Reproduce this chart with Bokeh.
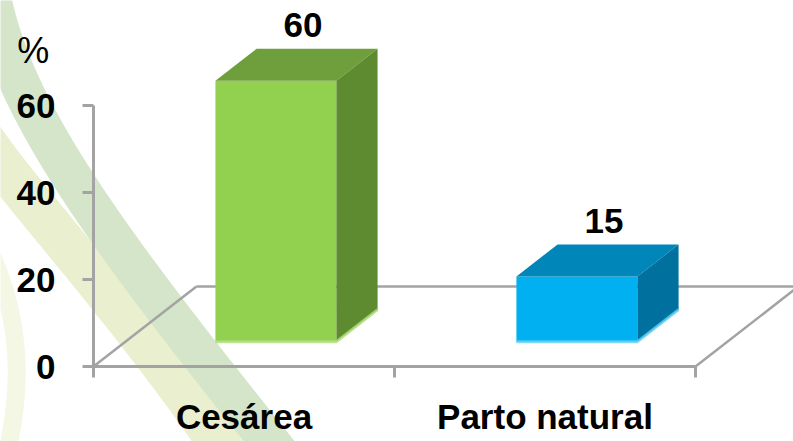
import numpy as np
from bokeh.plotting import figure
from bokeh.models import Range1d, LinearAxis, FixedTicker, ColumnDataSource
from bokeh.core.properties import value
from bokeh.embed import file_html
from bokeh.resources import INLINE

# ---- data -------------------------------------------------------------
categories = ["Cesárea", "Parto natural"]
percentages = [60, 15]
y_ticks = [0, 20, 40, 60]
y_unit_label = "%"

# face colours per bar: front, top, side, bottom highlight
front_colors = ["#92d050", "#00b0f0"]
top_colors = ["#6f9e3c", "#0086b8"]
side_colors = ["#5e8a30", "#00719e"]
edge_colors = ["#aee07a", "#5fd0f6"]

# ---- layout -----------------------------------------------------------
W, H = 793, 441
X0_PX, X_UNIT_PX = 93, 301      # canvas x of category edge 0, width of one category
Y0_PX, Y_UNIT_PX = 366, 4.35    # canvas y of value 0, pixels per percent

DX, DY = 0.342, 18.4            # depth vector of the floor, in data units
FRONT, BACK = 0.31, 0.71        # depth span of each bar (fraction of floor depth)
BAR_W = 0.402
LABEL_DX, LABEL_DY = 0.196, 18.5

FONT_NAME = "Liberation Sans"
FONT = value(FONT_NAME)
GREY = "#a3a3a3"

n = len(categories)
centers = np.arange(n) + 0.5

p = figure(
    width=W, height=H,
    x_range=Range1d(-X0_PX / X_UNIT_PX, (W - X0_PX) / X_UNIT_PX),
    y_range=Range1d(-(H - Y0_PX) / Y_UNIT_PX, Y0_PX / Y_UNIT_PX),
    x_axis_type=None, y_axis_type=None,
    output_backend="svg", toolbar_location=None, min_border=0,
)
p.outline_line_color = None
p.background_fill_color = "white"
p.border_fill_color = "white"

# decorative swooshes in canvas pixel space
p.extra_x_ranges = {"px": Range1d(0, W)}
p.extra_y_ranges = {"px": Range1d(H, 0)}


def bezier(p0, p1, p2, p3, num=90):
    t = np.linspace(0, 1, num)[:, None]
    pts = ((1 - t) ** 3) * np.array(p0) + 3 * ((1 - t) ** 2) * t * np.array(p1) \
        + 3 * (1 - t) * t ** 2 * np.array(p2) + t ** 3 * np.array(p3)
    return pts[:, 0], pts[:, 1]


for (c0, c1, c2, c3), lw, col in [
    (((-30, 215), (22, 300), (26, 380), (2, 470)), 18, "#f4f7e4"),
    (((-40, 100), (-5, 175), (120, 290), (250, 490)), 42, "#e9efcf"),
    (((-12, -20), (5, 110), (120, 255), (300, 480)), 40, "#d4e5c9"),
]:
    bx, by = bezier(c0, c1, c2, c3)
    p.line(bx, by, x_range_name="px", y_range_name="px",
           line_width=lw, line_color=col, line_cap="butt")

# ---- 3D floor ------------------------------------------------------------
p.multi_line(
    xs=[[0, DX], [DX, n + DX], [n, n + DX]],
    ys=[[0, DY], [DY, DY], [0, DY]],
    line_color=GREY, line_width=2.5,
)

# ---- axes ---------------------------------------------------------------
yaxis = LinearAxis(
    fixed_location=0, bounds=(0, y_ticks[-1]),
    ticker=FixedTicker(ticks=y_ticks, minor_ticks=[]),
    axis_line_color=GREY, axis_line_width=3,
    major_tick_line_color=GREY, major_tick_line_width=3,
    major_tick_out=11, major_tick_in=0,
    major_label_text_font=FONT_NAME, major_label_text_font_style="bold",
    major_label_text_font_size="35px", major_label_text_color="black",
    major_label_standoff=27,
)
p.add_layout(yaxis, "left")

xaxis = LinearAxis(
    fixed_location=0, bounds=(0, n),
    ticker=FixedTicker(ticks=list(centers), minor_ticks=list(range(n + 1))),
    major_label_overrides={float(c): lab for c, lab in zip(centers, categories)},
    axis_line_color=GREY, axis_line_width=3,
    major_tick_out=0, major_tick_in=0,
    minor_tick_line_color=GREY, minor_tick_line_width=3,
    minor_tick_out=11, minor_tick_in=0,
    major_label_text_font=FONT_NAME, major_label_text_font_style="bold",
    major_label_text_font_size="35px", major_label_text_color="black",
    major_label_standoff=19,
)
p.add_layout(xaxis, "below")

# ---- 3D bars ------------------------------------------------------------
vals = np.array(percentages, dtype=float)
x0 = centers + FRONT * DX - BAR_W / 2
x1 = x0 + BAR_W
y0 = np.full(n, FRONT * DY)
y1 = y0 + vals
ox, oy = (BACK - FRONT) * DX, (BACK - FRONT) * DY

front = ColumnDataSource(dict(left=x0, right=x1, bottom=y0, top=y1, color=front_colors))
p.quad(left="left", right="right", bottom="bottom", top="top",
       fill_color="color", line_color=None, source=front)

tops = ColumnDataSource(dict(
    xs=[[a, b, b + ox, a + ox] for a, b in zip(x0, x1)],
    ys=[[t, t, t + oy, t + oy] for t in y1],
    color=top_colors,
))
p.patches("xs", "ys", fill_color="color", line_color=None, source=tops)

sides = ColumnDataSource(dict(
    xs=[[b, b + ox, b + ox, b] for b in x1],
    ys=[[lo, lo + oy, hi + oy, hi] for lo, hi in zip(y0, y1)],
    color=side_colors,
))
p.patches("xs", "ys", fill_color="color", line_color=None, source=sides)

edges = ColumnDataSource(dict(
    xs=[[a, b, b + ox] for a, b in zip(x0, x1)],
    ys=[[lo, lo, lo + oy] for lo in y0],
    color=edge_colors,
))
p.multi_line("xs", "ys", line_color="color", line_width=3, line_alpha=0.8, source=edges)

# value labels above the bars
labels = ColumnDataSource(dict(
    x=centers + LABEL_DX, y=vals + LABEL_DY, text=[f"{v:g}" for v in percentages],
))
p.text("x", "y", text="text", source=labels, text_font=FONT, text_font_style="bold",
       text_font_size="35px", text_align="center", text_baseline="middle",
       text_color="black")

# unit label above the value axis
p.text(x=[-0.2], y=[72.6], text=[y_unit_label], text_font=FONT,
       text_font_size="36px", text_align="center", text_baseline="middle",
       text_color="black")

open("out.html", "w").write(file_html(p, INLINE))
